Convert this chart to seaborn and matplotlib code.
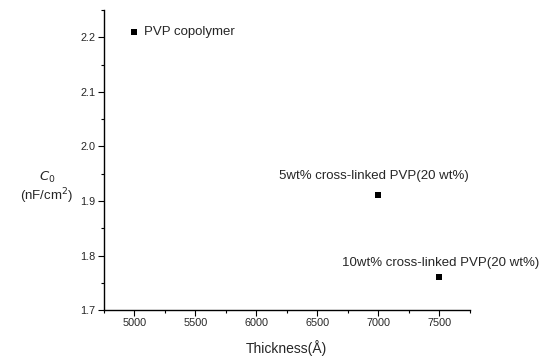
import matplotlib
matplotlib.use("Agg")
import matplotlib.pyplot as plt
import seaborn as sns
import pandas as pd
from matplotlib.ticker import MultipleLocator

thickness = [5000, 7000, 7500]
capacitance = [2.21, 1.91, 1.76]
labels = ["PVP copolymer", "5wt% cross-linked PVP(20 wt%)", "10wt% cross-linked PVP(20 wt%)"]

sns.set_theme(style="ticks")
plt.rcParams['font.family'] = ['Liberation Sans', 'DejaVu Sans']

df = pd.DataFrame({"thickness": thickness, "c0": capacitance})
fig = plt.figure(figsize=(5.52, 3.56), dpi=100)
ax = fig.add_axes([0.188, 0.129, 0.663, 0.843])
sns.scatterplot(data=df, x="thickness", y="c0", marker="s", color="black", s=14,
                edgecolor="black", linewidth=0, ax=ax)

ax.set_xlim(4750, 7750)
ax.set_ylim(1.7, 2.25)
ax.xaxis.set_major_locator(MultipleLocator(500))
ax.xaxis.set_minor_locator(MultipleLocator(250))
ax.yaxis.set_major_locator(MultipleLocator(0.1))
ax.yaxis.set_minor_locator(MultipleLocator(0.05))
ax.yaxis.set_major_formatter(matplotlib.ticker.FormatStrFormatter('%.1f'))
for s in ["top", "right"]:
    ax.spines[s].set_visible(False)
for s in ["left", "bottom"]:
    ax.spines[s].set_color("black")
    ax.spines[s].set_linewidth(1.0)
ax.tick_params(which="major", length=4, width=0.8, labelsize=7.8, color="black", pad=2)
ax.tick_params(which="minor", length=2, width=0.8, color="black")

ax.set_xlabel("Thickness(Å)", fontsize=10, labelpad=8)
ax.set_ylabel("")
fig.text(0.085, 0.472, "$\\mathit{C}_0$\n(nF/cm$^2$)", ha="center", va="center", fontsize=9.5,
         linespacing=1.1)

offsets = [(7, 0, "left", "center"), (-3, 10, "center", "bottom"), (1, 6, "center", "bottom")]
for x, y, t, (dx, dy, ha, va) in zip(thickness, capacitance, labels, offsets):
    ax.annotate(t, (x, y), xytext=(dx, dy), textcoords="offset points",
                ha=ha, va=va, fontsize=9.5, annotation_clip=False)

fig.savefig("out.png", dpi=100)
